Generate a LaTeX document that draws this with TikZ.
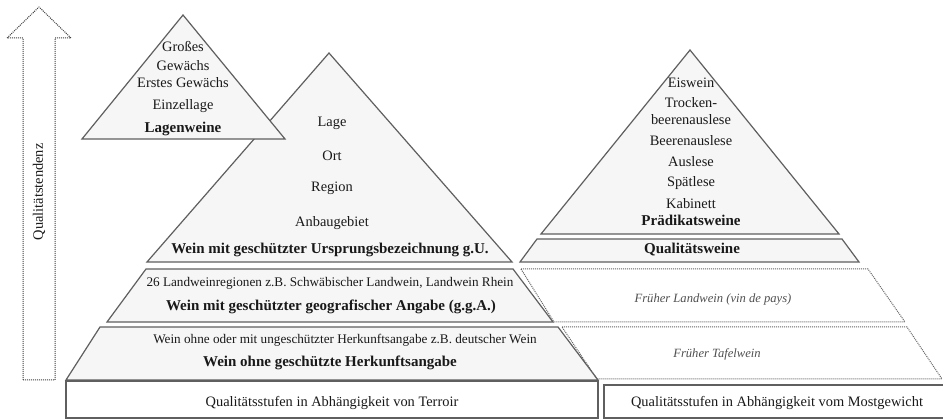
\documentclass[tikz,border=0pt]{standalone}
\usepackage{fontspec}
\setmainfont{Liberation Serif}
\definecolor{linegray}{RGB}{95,95,95}
\definecolor{fillgray}{RGB}{246,246,246}
\definecolor{dotgray}{RGB}{100,100,100}
\definecolor{txt}{RGB}{25,25,25}
\definecolor{itgray}{RGB}{80,80,80}
\begin{document}
\begin{tikzpicture}[x=1pt,y=-1pt,
  layer/.style={draw=linegray, fill=fillgray, line width=1.2pt, line join=miter},
  dotlayer/.style={draw=dotgray, densely dotted, line width=1pt},
  boxline/.style={draw=linegray, line width=1.2pt},
  reg/.style={font=\fontsize{14.4}{16}\selectfont, text=txt, anchor=base, inner sep=0pt},
  sml/.style={font=\fontsize{13.2}{15}\selectfont, text=txt, anchor=base, inner sep=0pt},
  bld/.style={font=\fontsize{15}{17}\selectfont\bfseries, text=txt, anchor=base, inner sep=0pt},
  ital/.style={font=\fontsize{12.6}{15}\selectfont\itshape, text=itgray, anchor=base, inner sep=0pt}]
\useasboundingbox (0,0) rectangle (943,419);
\fill[white] (0,0) rectangle (943,419);

% quality arrow
\draw[dotlayer, draw=black!75] (23,380) -- (23,38) -- (7,38) -- (39,7) -- (71,38) -- (55,38) -- (55,380) -- cycle;
\node[font=\fontsize{14.4}{16}\selectfont, text=txt, rotate=90] (tendenz) at (39,192) {Qualitätstendenz};

% left pyramid (terroir)
\draw[layer] (147,262) -- (329,53) -- (512,262) -- cycle;
\draw[layer] (82,139) -- (183,15) -- (285,139) -- cycle;
\draw[layer] (146,269) -- (513,269) -- (553,322) -- (107,322) -- cycle;
\draw[layer] (100,327) -- (558,327) -- (598,380) -- (66,380) -- cycle;
\draw[boxline] (66,418) -- (66,381) -- (598,381) -- (598,418) -- cycle;

% right pyramid (Mostgewicht)
\draw[layer] (541,234) -- (690,50) -- (839,234) -- cycle;
\draw[layer] (537,239) -- (842,239) -- (859,262) -- (520,262) -- cycle;
\draw[dotlayer] (521,269) -- (868,269) -- (905,322) -- (554,322) -- cycle;
\draw[dotlayer] (562,327) -- (907,327) -- (942,379) -- (597,379) -- cycle;
\draw[boxline] (945,385) -- (604,385) -- (604,418) -- (945,418);

% Lagenweine
\node[reg] (grosses) at (183,52) {Großes};
\node[reg] (gewaechs) at (183,71) {Gewächs};
\node[reg] (erstes) at (183,88) {Erstes Gewächs};
\node[reg] (einzellage) at (183,110) {Einzellage};
\node[bld] (lagenweine) at (183,133) {Lagenweine};

% g.U.
\node[reg] (lage) at (332,127) {Lage};
\node[reg] (ort) at (332,161) {Ort};
\node[reg] (region) at (332,192) {Region};
\node[reg] (anbau) at (332,227) {Anbaugebiet};
\node[bld] (gu) at (330,254) {Wein mit geschützter Ursprungsbezeichnung g.U.};

% g.g.A.
\node[sml] (landwein) at (330,287) {26 Landweinregionen z.B. Schwäbischer Landwein, Landwein Rhein};
\node[bld] (gga) at (331,311) {Wein mit geschützter geografischer Angabe (g.g.A.)};

% ohne
\node[sml] (ohneklein) at (345,344) {Wein ohne oder mit ungeschützter Herkunftsangabe z.B. deutscher Wein};
\node[bld] (ohne) at (330,367) {Wein ohne geschützte Herkunftsangabe};

\node[reg] (terroir) at (332,407) {Qualitätsstufen in Abhängigkeit von Terroir};

% Praedikat
\node[reg] (eiswein) at (691,88) {Eiswein};
\node[reg] (trocken) at (691,108) {Trocken-};
\node[reg] (beeren1) at (691,125) {beerenauslese};
\node[reg] (beeren2) at (691,146) {Beerenauslese};
\node[reg] (auslese) at (691,167) {Auslese};
\node[reg] (spaet) at (691,187) {Spätlese};
\node[reg] (kabinett) at (691,209) {Kabinett};
\node[bld] (praedikat) at (691,226) {Prädikatsweine};
\node[bld] (qualitaet) at (692,254) {Qualitätsweine};

\node[ital] (frueherland) at (713,303) {Früher Landwein (vin de pays)};
\node[ital] (fruehertafel) at (717,358) {Früher Tafelwein};

\node[reg] (most) at (777,407) {Qualitätsstufen in Abhängigkeit vom Mostgewicht};
\end{tikzpicture}
\end{document}
